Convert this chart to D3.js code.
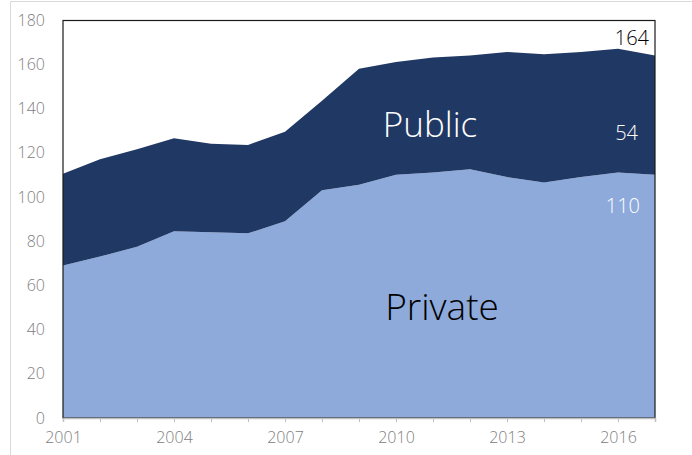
<!DOCTYPE html>
<html><head><meta charset="utf-8">
<script src="https://cdn.jsdelivr.net/npm/d3@7"></script>
<style>html,body{margin:0;padding:0;background:#fff;}svg{display:block;}</style>
</head><body>
<svg id="chart" width="692" height="455"></svg>
<script>
const years = [2001,2002,2003,2004,2005,2006,2007,2008,2009,2010,2011,2012,2013,2014,2015,2016,2017];
const privateVals = [69,73,77.5,84.5,84,83.5,89,103,105.5,110,111,112.5,109,106.5,109,111,110];
const publicVals = [41.5,44,44,42,40,40,40.5,40.5,52.5,51,52,51.5,56.5,58,56.5,56,54];
const yTicks = [0,20,40,60,80,100,120,140,160,180];
const xTickLabels = [2001,2004,2007,2010,2013,2016];
const endLabels = {total:"164", public:"54", private:"110"};

const svg = d3.select("#chart");
const margin = {left:63, right:37, top:20, bottom:37};
const W = 692, H = 455;
const x = d3.scaleLinear().domain([2001,2017]).range([margin.left, W - margin.right]);
const y = d3.scaleLinear().domain([0,180]).range([H - margin.bottom, margin.top]);
const font = "'Open Sans', sans-serif";

// outer chart border
svg.append("path").attr("d", `M10.5,${H} L10.5,1.5 L${W},1.5`).attr("fill","none").attr("stroke","#d9d9d9").attr("stroke-width",1);

const data = years.map((yr,i)=>({year:yr, private:privateVals[i], public:publicVals[i]}));
const stack = d3.stack().keys(["private","public"]);
const series = stack(data);
const colors = {private:"#8eaadb", public:"#203864"};
const area = d3.area().x(d=>x(d.data.year)).y0(d=>y(d[0])).y1(d=>y(d[1]));

svg.append("g").selectAll("path").data(series).join("path")
  .attr("d", area).attr("fill", d=>colors[d.key]);

// plot border
svg.append("rect").attr("x", x(2001)).attr("y", y(180)+0.5)
  .attr("width", x(2017)-x(2001)).attr("height", y(0)-y(180)-0.5)
  .attr("fill","none").attr("stroke","#1a1a1a").attr("stroke-width",1.2);

// x axis
const xAxis = d3.axisBottom(x).tickValues(years).tickSize(4).tickFormat(d=> xTickLabels.includes(d) ? String(d) : "");
const gx = svg.append("g").attr("transform",`translate(0,${y(0)})`).call(xAxis);
gx.select(".domain").attr("stroke","#bfbfbf").attr("stroke-width",1.5);
gx.selectAll(".tick line").attr("stroke","#bfbfbf");
gx.selectAll("text").attr("fill","#808080").attr("font-size",16).attr("font-weight",300).attr("font-family",font).attr("dy","1.1em");

// y axis
const yAxis = d3.axisLeft(y).tickValues(yTicks).tickSize(0).tickPadding(18);
const gy = svg.append("g").attr("transform",`translate(${x(2001)},0)`).call(yAxis);
gy.select(".domain").remove();
gy.selectAll("text").attr("fill","#808080").attr("font-size",16).attr("font-weight",300).attr("font-family",font);

// series labels
svg.append("text").attr("x", 430).attr("y", 137).attr("text-anchor","middle")
  .attr("fill","#fff").attr("font-size",35).attr("font-weight",300).attr("font-family",font).text("Public");
svg.append("text").attr("x", 442).attr("y", 320).attr("text-anchor","middle")
  .attr("fill","#000").attr("font-size",37).attr("font-weight",300).attr("font-family",font).text("Private");

// end labels
const last = data[data.length-1];
svg.append("text").attr("x", 649).attr("y", y(last.private+last.public)-10).attr("text-anchor","end")
  .attr("fill","#000").attr("font-size",20).attr("font-weight",300).attr("font-family",font).text(endLabels.total);
svg.append("text").attr("x", 638).attr("y", 140).attr("text-anchor","end")
  .attr("fill","#fff").attr("font-size",20).attr("font-weight",300).attr("font-family",font).text(endLabels.public);
svg.append("text").attr("x", 640).attr("y", 213).attr("text-anchor","end")
  .attr("fill","#fff").attr("font-size",20).attr("font-weight",300).attr("font-family",font).text(endLabels.private);
</script>
</body></html>
